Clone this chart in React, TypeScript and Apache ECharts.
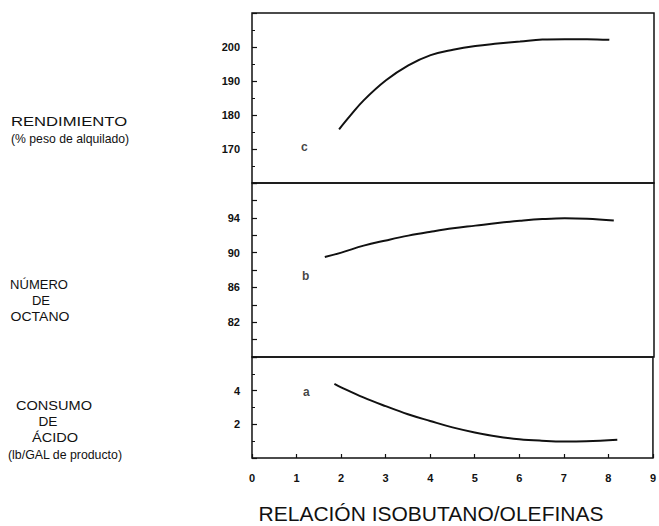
import React, { useEffect, useRef } from "react";
import * as echarts from "echarts";

// x-axis ticks (relación isobutano/olefinas)
const xTicks = [0, 1, 2, 3, 4, 5, 6, 7, 8, 9];

// c: Rendimiento (% peso de alquilado)
const yieldX = [1.95, 2.2, 2.5, 3.0, 3.5, 4.0, 4.5, 5.0, 5.5, 6.0, 6.5, 7.0, 7.5, 8.0];
const yieldVals = [175.8, 179.8, 184.3, 190.2, 194.6, 197.6, 199.2, 200.3, 201.0, 201.6, 202.2, 202.3, 202.3, 202.1];
const yieldTicks = [170, 180, 190, 200];

// b: Número de octano
const octaneX = [1.63, 2.0, 2.5, 3.0, 3.5, 4.0, 4.5, 5.0, 5.5, 6.0, 6.5, 7.0, 7.5, 8.1];
const octaneVals = [89.5, 90.0, 90.8, 91.4, 91.95, 92.4, 92.8, 93.1, 93.4, 93.65, 93.85, 93.95, 93.9, 93.7];
const octaneTicks = [82, 86, 90, 94];

// a: Consumo de ácido (lb/GAL de producto)
const acidX = [1.85, 2.0, 2.5, 3.0, 3.5, 4.0, 4.5, 5.0, 5.5, 6.0, 6.5, 7.0, 7.5, 8.2];
const acidVals = [4.4, 4.2, 3.6, 3.08, 2.6, 2.2, 1.82, 1.52, 1.28, 1.12, 1.03, 0.98, 0.99, 1.08];
const acidTicks = [2, 4];

// curve letters
const curveLetters = ["c", "b", "a"];
const letterX = [1.17, 1.2, 1.22];
const letterY = [170.5, 87.3, 3.9];

const FONT = "Liberation Sans, Arial, sans-serif";
const INK = "#111";

export default function App() {
  const ref = useRef<HTMLDivElement>(null);
  useEffect(() => {
    if (!ref.current) return;
    const chart = echarts.init(ref.current, undefined, { renderer: "svg" });
    const grids = [
      { left: 252, right: 5, top: 13, height: 170 },
      { left: 252, right: 5, top: 183, height: 174 },
      { left: 252, right: 5, top: 357, height: 101 },
    ].map((g) => ({ ...g, show: true, borderColor: INK, borderWidth: 1.5, backgroundColor: "transparent" }));

    const xAxes = [0, 1, 2].map((i) => ({
      type: "value",
      gridIndex: i,
      min: xTicks[0],
      max: xTicks[xTicks.length - 1],
      interval: 1,
      axisLine: { show: false },
      splitLine: { show: false },
      axisTick: { show: i === 2, inside: true, length: 4, lineStyle: { color: INK, width: 1.2 } },
      axisLabel: {
        show: i === 2,
        margin: 14,
        fontSize: 11,
        fontWeight: "bold",
        fontFamily: FONT,
        color: INK,
      },
    }));

    const mkY = (i: number, min: number, max: number, interval: number, shown: number[], minorSplit: number) => ({
      type: "value",
      gridIndex: i,
      min,
      max,
      interval,
      axisLine: { show: false },
      splitLine: { show: false },
      axisTick: { show: true, inside: true, length: 5, lineStyle: { color: INK, width: 1.2 } },
      minorTick: { show: minorSplit > 1, splitNumber: minorSplit, length: 3, lineStyle: { color: INK, width: 1 } },
      axisLabel: {
        margin: 12,
        fontSize: 11,
        fontWeight: "bold",
        fontFamily: FONT,
        color: INK,
        formatter: (v: number) => (shown.includes(v) ? String(v) : ""),
      },
    });

    const yAxes = [
      mkY(0, 160, 210, 10, yieldTicks, 2),
      mkY(1, 78, 98, 2, octaneTicks, 0),
      mkY(2, 0, 6, 2, acidTicks, 2),
    ];

    const lineSeries = (i: number, xs: number[], ys: number[]) => ({
      type: "line",
      xAxisIndex: i,
      yAxisIndex: i,
      data: xs.map((x, k) => [x, ys[k]]),
      smooth: 0.4,
      symbol: "none",
      lineStyle: { color: INK, width: 2 },
    });

    const letterSeries = (i: number) => ({
      type: "scatter",
      xAxisIndex: i,
      yAxisIndex: i,
      symbolSize: 0,
      data: [[letterX[i], letterY[i]]],
      label: {
        show: true,
        position: "inside",
        formatter: curveLetters[i],
        fontSize: 12,
        fontWeight: "bold",
        fontFamily: FONT,
        color: INK,
      },
    });

    const txt = (text: string, x: number, y: number, align: string, size = 13, sx = 1, weight = "normal") => ({
      type: "text",
      x,
      y,
      scaleX: sx,
      style: {
        text,
        fontSize: size,
        fontWeight: weight,
        fontFamily: FONT,
        fill: INK,
        textAlign: align,
        textVerticalAlign: "middle",
      },
    });

    chart.setOption({
      animation: false,
      backgroundColor: "#fff",
      grid: grids,
      xAxis: xAxes,
      yAxis: yAxes,
      series: [
        lineSeries(0, yieldX, yieldVals),
        lineSeries(1, octaneX, octaneVals),
        lineSeries(2, acidX, acidVals),
        letterSeries(0),
        letterSeries(1),
        letterSeries(2),
      ],
      graphic: [
        txt("RENDIMIENTO", 11, 121, "left", 13, 1.28),
        txt("(% peso de alquilado)", 11, 139, "left", 13, 0.94),
        txt("NÚMERO", 39, 284, "center", 13, 1.0),
        txt("DE", 41, 300, "center", 13, 1.0),
        txt("OCTANO", 40, 317, "center", 13, 1.08),
        txt("CONSUMO", 54, 406, "center", 13, 1.12),
        txt("DE", 48, 422, "center", 13, 1.05),
        txt("ÁCIDO", 55, 438, "center", 13, 1.12),
        txt("(lb/GAL de producto)", 65, 455, "center", 13, 0.95),
        txt("RELACIÓN ISOBUTANO/OLEFINAS", 431, 514, "center", 20, 1.05),
      ],
    });
    return () => chart.dispose();
  }, []);
  return (
    <div
      ref={ref}
      style={{ position: "fixed", left: 0, top: 0, width: 659, height: 526, background: "#fff" }}
    />
  );
}
